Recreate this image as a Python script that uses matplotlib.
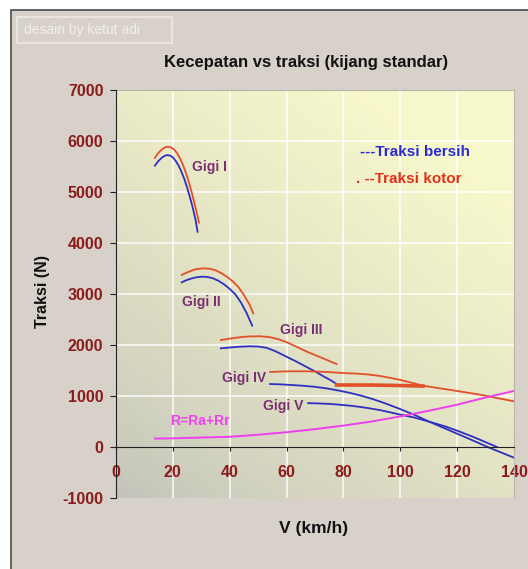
import numpy as np
import matplotlib
matplotlib.use("Agg")
import matplotlib.pyplot as plt
from matplotlib.patches import Rectangle

# data (V in km/h, traction in N)
v_g1_b = [13.7, 14.5, 15.5, 16.5, 17.8, 19.0, 20.0, 21.0, 22.0, 23.0, 24.0, 25.0, 26.0, 27.0, 28.0, 28.7]
f_g1_b = [5516, 5580, 5640, 5690, 5725, 5715, 5680, 5610, 5520, 5400, 5260, 5090, 4900, 4690, 4450, 4220]
v_g1_r = [13.7, 14.5, 15.5, 16.5, 17.5, 18.3, 19.3, 20.5, 21.5, 22.5, 23.5, 24.5, 25.5, 26.5, 27.5, 28.5, 29.2]
f_g1_r = [5667, 5740, 5800, 5850, 5880, 5888, 5875, 5830, 5760, 5660, 5540, 5390, 5220, 5020, 4800, 4570, 4400]

v_g2_b = [23.1, 24.5, 26.0, 28.0, 30.1, 32.0, 34.0, 36.0, 38.0, 40.0, 42.0, 44.0, 46.0, 47.9]
f_g2_b = [3229, 3265, 3295, 3325, 3340, 3335, 3310, 3260, 3190, 3100, 2990, 2830, 2620, 2380]
v_g2_r = [23.1, 24.5, 26.0, 28.0, 30.7, 33.0, 35.0, 37.0, 39.0, 41.0, 43.0, 45.0, 47.0, 48.3]
f_g2_r = [3373, 3410, 3445, 3485, 3503, 3495, 3465, 3410, 3340, 3250, 3140, 2980, 2790, 2620]

v_g3_b = [36.9, 40.0, 43.0, 47.1, 50.0, 53.0, 56.0, 58.9, 62.0, 65.0, 68.0, 70.6, 73.0, 75.5, 77.6]
f_g3_b = [1935, 1950, 1965, 1975, 1970, 1945, 1880, 1800, 1715, 1630, 1540, 1464, 1385, 1310, 1235]
v_g3_r = [36.9, 40.0, 44.0, 47.0, 50.7, 54.0, 57.0, 60.0, 62.4, 65.0, 67.5, 70.6, 74.0, 77.6]
f_g3_r = [2098, 2125, 2155, 2168, 2171, 2155, 2115, 2055, 1995, 1925, 1860, 1790, 1710, 1627]

v_g4_b = [54.2, 58.0, 62.0, 66.0, 70.0, 74.0, 78.0, 82.0, 86.0, 90.0, 94.0, 99.0, 104.6, 110.0, 116.3, 124.0, 131.6, 140.0]
f_g4_b = [1235, 1228, 1215, 1200, 1180, 1150, 1110, 1065, 1010, 945, 870, 765, 640, 500, 350, 165, -20, -210]
v_g4_r = [54.2, 58.0, 62.0, 66.0, 70.0, 75.0, 80.0, 85.0, 89.0, 93.0, 97.0, 100.0, 104.0, 108.0, 114.0, 120.0, 126.0, 130.0, 135.0, 140.0]
f_g4_r = [1470, 1480, 1485, 1485, 1480, 1468, 1450, 1438, 1420, 1392, 1350, 1315, 1260, 1202, 1150, 1098, 1045, 1006, 950, 896]

v_g5_b = [67.6, 71.0, 75.0, 78.5, 82.3, 86.0, 89.0, 93.0, 96.4, 100.0, 104.6, 110.0, 116.0, 121.0, 126.0, 130.0, 134.0]
f_g5_b = [860, 855, 845, 830, 810, 785, 760, 722, 680, 635, 582, 500, 400, 300, 190, 95, 0]
v_g5_r = [77.6, 90.0, 100.0, 108.0]
f_g5_r = [1216, 1215, 1205, 1195]

v_res = [13.7, 20, 30, 40, 50, 60, 70, 80, 90, 100, 110, 120, 130, 140]
f_res = [165, 170, 185, 200, 240, 290, 350, 420, 500, 600, 710, 830, 970, 1100]

x_ticks = [0, 20, 40, 60, 80, 100, 120, 140]
y_ticks = [-1000, 0, 1000, 2000, 3000, 4000, 5000, 6000, 7000]

gigi_labels = ["Gigi I", "Gigi II", "Gigi III", "Gigi IV", "Gigi V"]
gigi_pos = [(26.6, 5490), (23.1, 2837), (57.7, 2294), (37.2, 1347), (51.8, 810)]

plt.rcParams["font.family"] = ["Liberation Sans", "DejaVu Sans"]
plt.rcParams["axes.unicode_minus"] = False

W, H = 528, 569
fig = plt.figure(figsize=(W / 100, H / 100), dpi=100, facecolor="white")

# grey panel with dark frame
fig.add_artist(Rectangle((11 / W, -0.01), 1.0, 1 - 10 / H + 0.01, transform=fig.transFigure,
                         facecolor="#d7d1ca", edgecolor="#4a4a4a", linewidth=1.2, zorder=0))
fig.add_artist(Rectangle((17 / W, 1 - 43 / H), 155 / W, 26 / H, transform=fig.transFigure,
                         facecolor="none", edgecolor="#ece8e4", linewidth=1.2, zorder=1))
fig.text(24 / W, 1 - 30 / H, "desain by ketut adi", color="#f2eeea", fontsize=10,
         va="center", ha="left")

ax = fig.add_axes([116 / W, 1 - 498 / H, 398 / W, 408 / H])
ax.set_xlim(0, 140)
ax.set_ylim(-1000, 7000)

# background gradient grey (bottom-left) -> light yellow (top-right)
gx, gy = np.meshgrid(np.linspace(0, 1, 200), np.linspace(0, 1, 200))
t = np.clip(0.5 * gx + 0.7 * gy, 0, 1) ** 0.75
c0 = np.array([0.76, 0.76, 0.73])
c1 = np.array([0.97, 0.97, 0.80])
img = c0[None, None, :] * (1 - t[..., None]) + c1[None, None, :] * t[..., None]
ax.imshow(img, extent=[0, 140, -1000, 7000], origin="lower", aspect="auto", zorder=0)

for xv in x_ticks[1:-1]:
    ax.axvline(xv, color="white", lw=1.2, alpha=0.85, zorder=1)
for yv in y_ticks[2:-1]:
    ax.axhline(yv, color="white", lw=1.2, alpha=0.85, zorder=1)

blue = "#2f2fc0"
red = "#e2502a"
ax.plot(v_g1_r, f_g1_r, color=red, lw=1.3, zorder=3)
ax.plot(v_g1_b, f_g1_b, color=blue, lw=1.3, zorder=3)
ax.plot(v_g2_r, f_g2_r, color=red, lw=1.3, zorder=3)
ax.plot(v_g2_b, f_g2_b, color=blue, lw=1.3, zorder=3)
ax.plot(v_g3_r, f_g3_r, color=red, lw=1.3, zorder=3)
ax.plot(v_g3_b, f_g3_b, color=blue, lw=1.3, zorder=3)
ax.plot(v_g4_r, f_g4_r, color=red, lw=1.3, zorder=3)
ax.plot(v_g4_b, f_g4_b, color=blue, lw=1.3, zorder=3)
ax.plot(v_g5_r, f_g5_r, color=red, lw=2.6, zorder=3)
ax.plot(v_g5_b, f_g5_b, color=blue, lw=1.3, zorder=3)
ax.plot(v_res, f_res, color="#ee40ee", lw=1.4, zorder=3)

for lab, (px, py) in zip(gigi_labels, gigi_pos):
    ax.text(px, py, lab, color="#7a2f72", fontsize=10, fontweight="bold", ha="left", va="center", zorder=4)
ax.text(19.2, 516, "R=Ra+Rr", color="#f040f0", fontsize=10, fontweight="bold", ha="left", va="center", zorder=4)

ax.text(85.8, 5784, "---Traksi bersih", color="#2a2ad0", fontsize=11, fontweight="bold", ha="left", va="center", zorder=4)
ax.text(84.5, 5255, ". --Traksi kotor", color="#e2301a", fontsize=11, fontweight="bold", ha="left", va="center", zorder=4)

# axes: y axis at x=0, x axis at y=0
ax.spines["bottom"].set_position(("data", 0))
ax.spines["bottom"].set_color("#222222")
ax.spines["left"].set_color("#222222")
for s in ["top", "right"]:
    ax.spines[s].set_color("#b8b4ae")
ax.spines["bottom"].set_zorder(5)
ax.spines["left"].set_zorder(5)

ax.set_xticks(x_ticks)
ax.set_xticklabels([str(v) for v in x_ticks])
ax.set_yticks(y_ticks)
ax.set_yticklabels([str(v) for v in y_ticks])
ax.tick_params(axis="x", direction="out", length=3, pad=10, labelsize=11.5, labelcolor="#8c1c1c", color="#222222")
ax.tick_params(axis="y", direction="out", length=4, pad=5, labelsize=11.5, labelcolor="#8c1c1c", color="#222222")
for lbl in ax.get_xticklabels() + ax.get_yticklabels():
    lbl.set_fontweight("bold")
ax.get_xticklabels()[0].set_zorder(0)

fig.text(306 / W, 1 - 62 / H, "Kecepatan vs traksi (kijang standar)", fontsize=12,
         fontweight="bold", ha="center", va="center", color="#111111")
fig.text(42 / W, 1 - 292 / H, "Traksi (N)", fontsize=11.5, fontweight="bold", rotation=90,
         ha="center", va="center", color="#111111")
fig.text(314 / W, 1 - 529 / H, "V (km/h)", fontsize=12.5, fontweight="bold",
         ha="center", va="center", color="#111111")

plt.savefig("out.png", dpi=100)
plt.close()
